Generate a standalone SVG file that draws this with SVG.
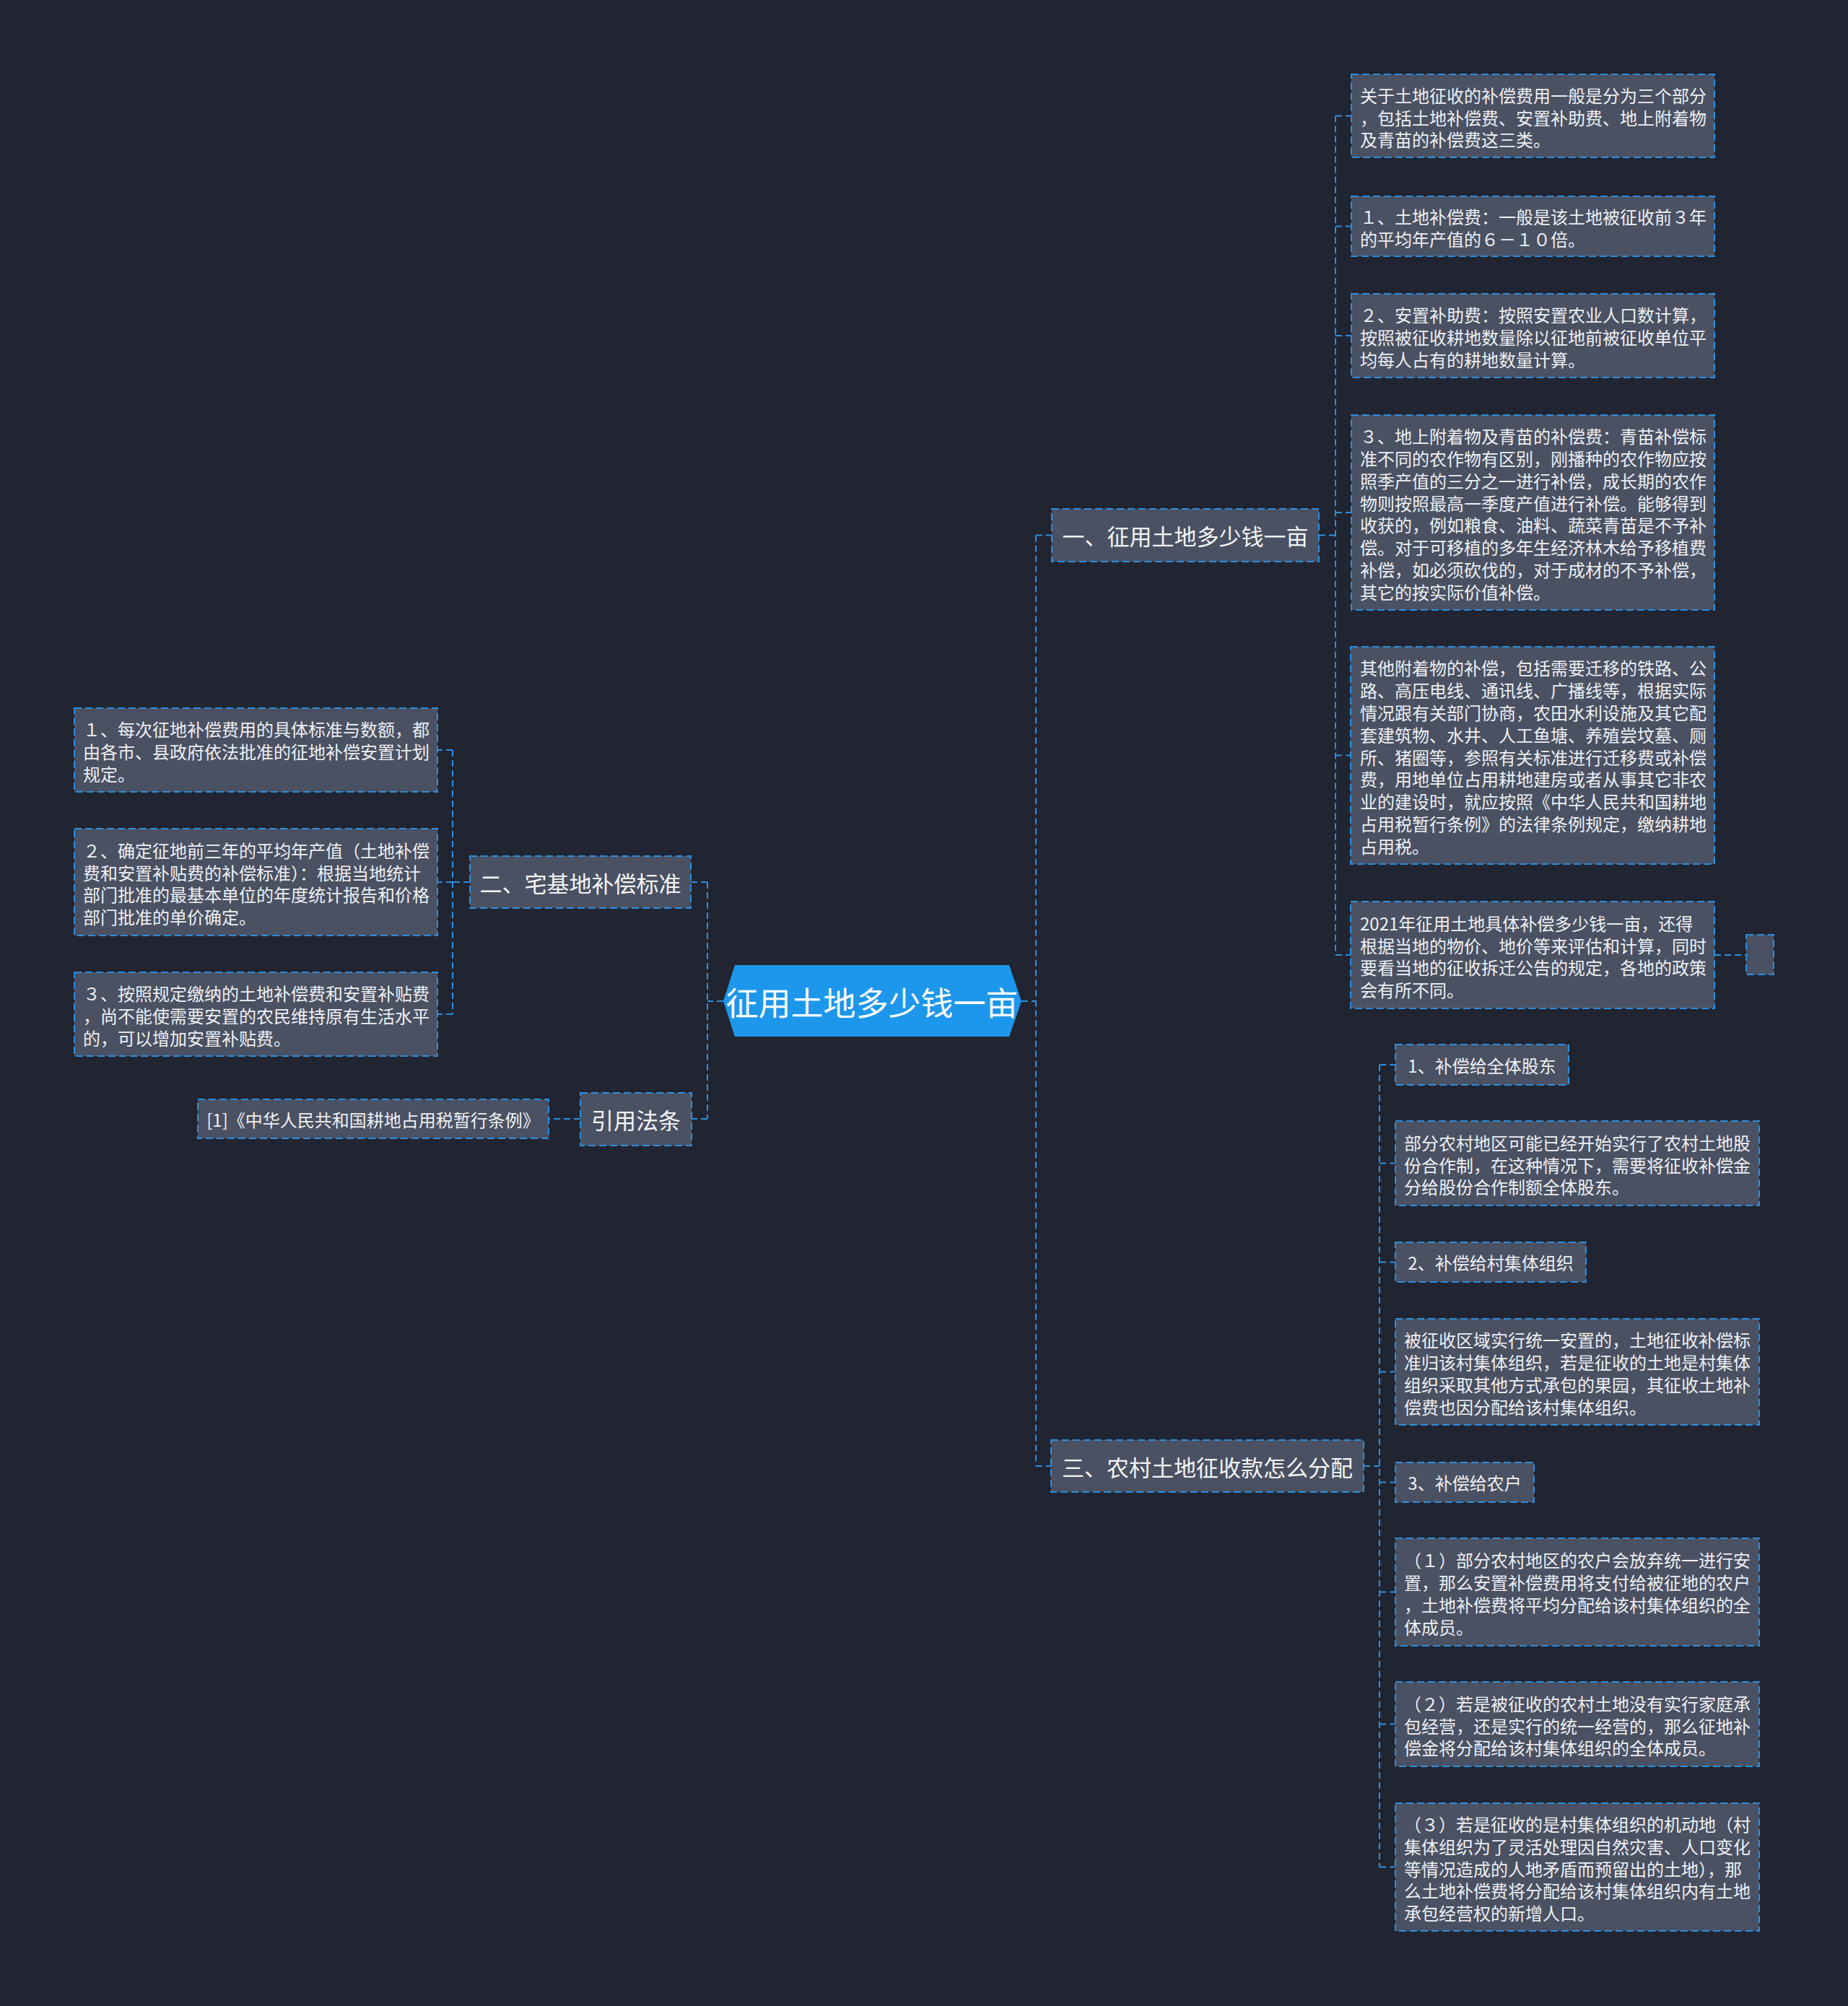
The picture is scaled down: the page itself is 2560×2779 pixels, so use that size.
<svg xmlns="http://www.w3.org/2000/svg" width="2560" height="2779" viewBox="0 0 2560 2779">
<style>
.bg{fill:#212531}
.box{fill:#4a5162;stroke:#2b8ee0;stroke-width:2;stroke-dasharray:10 5}
.conn{fill:none;stroke:#2b8ee0;stroke-width:2;stroke-dasharray:9 5}
.t{font-family:"Noto Sans CJK SC","Noto Sans",sans-serif;fill:#eef0f4;dominant-baseline:central}
.s{font-size:24px}
.b{font-size:31px;text-anchor:middle;fill:#f4f5f7}
.r{font-size:45px;text-anchor:middle;fill:#ffffff}
</style>
<rect class="bg" x="0" y="0" width="2560" height="2779"/>
<g id="connectors">
<path class="conn" d="M1415 1387 H1435 M1435 741.5 V2031 M1435 741.5 H1457 M1435 2031 H1456"/>
<path class="conn" d="M1827 741.5 H1850 M1850 160.5 V1323 M1850 160.5 H1872 M1850 313.5 H1872 M1850 465 H1872 M1850 710 H1872 M1850 1046.5 H1871 M1850 1323 H1871 M2375 1323 H2419"/>
<path class="conn" d="M1889 2031 H1911 M1911 1475 V2586.5 M1911 1475 H1933 M1911 1611.5 H1933 M1911 1748.5 H1933 M1911 1900.5 H1933 M1911 2053.5 H1933 M1911 2205.5 H1933 M1911 2388.5 H1933 M1911 2586.5 H1933"/>
<path class="conn" d="M1002 1387 H980 M980 1222 V1550 M980 1222 H957 M980 1550 H958"/>
<path class="conn" d="M651 1222 H627 M627 1039 V1405 M627 1039 H606 M627 1222 H606 M627 1405 H606 M804 1550 H760"/>
</g>
<g id="root">
<polygon points="1002,1387 1018,1337 1398,1337 1415,1387 1398,1436 1018,1436" fill="#1d97ec"/>
<text class="t r" x="1208" y="1387">征用土地多少钱一亩</text>
</g>
<g id="branch1">
<rect class="box" x="1457" y="705" width="370" height="73"/>
<text class="t b" x="1642" y="741.5">一、征用土地多少钱一亩</text>
</g>
<g id="c1">
<rect class="box" x="1872" y="103" width="503" height="115"/>
<text class="t s"><tspan x="1884" y="130.7">关于土地征收的补偿费用一般是分为三个部分</tspan><tspan x="1884" y="161.5">，包括土地补偿费、安置补助费、地上附着物</tspan><tspan x="1884" y="192.3">及青苗的补偿费这三类。</tspan></text>
</g>
<g id="c2">
<rect class="box" x="1872" y="272" width="503" height="83"/>
<text class="t s"><tspan x="1884" y="299.1">１、土地补偿费：一般是该土地被征收前３年</tspan><tspan x="1884" y="329.9">的平均年产值的６－１０倍。</tspan></text>
</g>
<g id="c3">
<rect class="box" x="1872" y="407" width="503" height="116"/>
<text class="t s"><tspan x="1884" y="435.2">２、安置补助费：按照安置农业人口数计算，</tspan><tspan x="1884" y="466">按照被征收耕地数量除以征地前被征收单位平</tspan><tspan x="1884" y="496.8">均每人占有的耕地数量计算。</tspan></text>
</g>
<g id="c4">
<rect class="box" x="1872" y="575" width="503" height="270"/>
<text class="t s"><tspan x="1884" y="603.2">３、地上附着物及青苗的补偿费：青苗补偿标</tspan><tspan x="1884" y="634">准不同的农作物有区别，刚播种的农作物应按</tspan><tspan x="1884" y="664.8">照季产值的三分之一进行补偿，成长期的农作</tspan><tspan x="1884" y="695.6">物则按照最高一季度产值进行补偿。能够得到</tspan><tspan x="1884" y="726.4">收获的，例如粮食、油料、蔬菜青苗是不予补</tspan><tspan x="1884" y="757.2">偿。对于可移植的多年生经济林木给予移植费</tspan><tspan x="1884" y="788">补偿，如必须砍伐的，对于成材的不予补偿，</tspan><tspan x="1884" y="818.8">其它的按实际价值补偿。</tspan></text>
</g>
<g id="c5">
<rect class="box" x="1871" y="896" width="504" height="301"/>
<text class="t s"><tspan x="1884" y="924.3">其他附着物的补偿，包括需要迁移的铁路、公</tspan><tspan x="1884" y="955.1">路、高压电线、通讯线、广播线等，根据实际</tspan><tspan x="1884" y="985.9">情况跟有关部门协商，农田水利设施及其它配</tspan><tspan x="1884" y="1016.7">套建筑物、水井、人工鱼塘、养殖尝坟墓、厕</tspan><tspan x="1884" y="1047.5">所、猪圈等，参照有关标准进行迁移费或补偿</tspan><tspan x="1884" y="1078.3">费，用地单位占用耕地建房或者从事其它非农</tspan><tspan x="1884" y="1109.1">业的建设时，就应按照《中华人民共和国耕地</tspan><tspan x="1884" y="1139.9">占用税暂行条例》的法律条例规定，缴纳耕地</tspan><tspan x="1884" y="1170.7">占用税。</tspan></text>
</g>
<g id="c6">
<rect class="box" x="1871" y="1249" width="504" height="148"/>
<text class="t s"><tspan x="1884" y="1277.8">2021年征用土地具体补偿多少钱一亩，还得</tspan><tspan x="1884" y="1308.6">根据当地的物价、地价等来评估和计算，同时</tspan><tspan x="1884" y="1339.4">要看当地的征收拆迁公告的规定，各地的政策</tspan><tspan x="1884" y="1370.2">会有所不同。</tspan></text>
</g>
<g id="c6-empty">
<rect class="box" x="2419" y="1295" width="38" height="55"/>
</g>
<g id="branch3">
<rect class="box" x="1456" y="1995" width="433" height="72"/>
<text class="t b" x="1672.5" y="2031">三、农村土地征收款怎么分配</text>
</g>
<g id="d1">
<rect class="box" x="1933" y="1447" width="240" height="56"/>
<text class="t s" x="2053" y="1475" text-anchor="middle">1、补偿给全体股东</text>
</g>
<g id="d2">
<rect class="box" x="1933" y="1553" width="504" height="117"/>
<text class="t s"><tspan x="1945" y="1581.7">部分农村地区可能已经开始实行了农村土地股</tspan><tspan x="1945" y="1612.5">份合作制，在这种情况下，需要将征收补偿金</tspan><tspan x="1945" y="1643.3">分给股份合作制额全体股东。</tspan></text>
</g>
<g id="d3">
<rect class="box" x="1933" y="1721" width="264" height="55"/>
<text class="t s" x="2065" y="1748.5" text-anchor="middle">2、补偿给村集体组织</text>
</g>
<g id="d4">
<rect class="box" x="1933" y="1827" width="504" height="147"/>
<text class="t s"><tspan x="1945" y="1855.3">被征收区域实行统一安置的，土地征收补偿标</tspan><tspan x="1945" y="1886.1">准归该村集体组织，若是征收的土地是村集体</tspan><tspan x="1945" y="1916.9">组织采取其他方式承包的果园，其征收土地补</tspan><tspan x="1945" y="1947.7">偿费也因分配给该村集体组织。</tspan></text>
</g>
<g id="d5">
<rect class="box" x="1933" y="2026" width="192" height="55"/>
<text class="t s" x="2029" y="2053.5" text-anchor="middle">3、补偿给农户</text>
</g>
<g id="d6">
<rect class="box" x="1933" y="2131" width="504" height="149"/>
<text class="t s"><tspan x="1945" y="2160.3">（１）部分农村地区的农户会放弃统一进行安</tspan><tspan x="1945" y="2191.1">置，那么安置补偿费用将支付给被征地的农户</tspan><tspan x="1945" y="2221.9">，土地补偿费将平均分配给该村集体组织的全</tspan><tspan x="1945" y="2252.7">体成员。</tspan></text>
</g>
<g id="d7">
<rect class="box" x="1933" y="2330" width="504" height="117"/>
<text class="t s"><tspan x="1945" y="2358.7">（２）若是被征收的农村土地没有实行家庭承</tspan><tspan x="1945" y="2389.5">包经营，还是实行的统一经营的，那么征地补</tspan><tspan x="1945" y="2420.3">偿金将分配给该村集体组织的全体成员。</tspan></text>
</g>
<g id="d8">
<rect class="box" x="1933" y="2498" width="504" height="177"/>
<text class="t s"><tspan x="1945" y="2525.9">（３）若是征收的是村集体组织的机动地（村</tspan><tspan x="1945" y="2556.7">集体组织为了灵活处理因自然灾害、人口变化</tspan><tspan x="1945" y="2587.5">等情况造成的人地矛盾而预留出的土地），那</tspan><tspan x="1945" y="2618.3">么土地补偿费将分配给该村集体组织内有土地</tspan><tspan x="1945" y="2649.1">承包经营权的新增人口。</tspan></text>
</g>
<g id="branch2">
<rect class="box" x="651" y="1186" width="306" height="72"/>
<text class="t b" x="804" y="1222">二、宅基地补偿标准</text>
</g>
<g id="e1">
<rect class="box" x="103" y="981" width="503" height="116"/>
<text class="t s"><tspan x="115" y="1009.2">１、每次征地补偿费用的具体标准与数额，都</tspan><tspan x="115" y="1040">由各市、县政府依法批准的征地补偿安置计划</tspan><tspan x="115" y="1070.8">规定。</tspan></text>
</g>
<g id="e2">
<rect class="box" x="103" y="1148" width="503" height="148"/>
<text class="t s"><tspan x="115" y="1176.8">２、确定征地前三年的平均年产值（土地补偿</tspan><tspan x="115" y="1207.6">费和安置补贴费的补偿标准）：根据当地统计</tspan><tspan x="115" y="1238.4">部门批准的最基本单位的年度统计报告和价格</tspan><tspan x="115" y="1269.2">部门批准的单价确定。</tspan></text>
</g>
<g id="e3">
<rect class="box" x="103" y="1347" width="503" height="116"/>
<text class="t s"><tspan x="115" y="1375.2">３、按照规定缴纳的土地补偿费和安置补贴费</tspan><tspan x="115" y="1406">，尚不能使需要安置的农民维持原有生活水平</tspan><tspan x="115" y="1436.8">的，可以增加安置补贴费。</tspan></text>
</g>
<g id="branch4">
<rect class="box" x="804" y="1514" width="154" height="73"/>
<text class="t b" x="881" y="1550">引用法条</text>
</g>
<g id="ref1">
<rect class="box" x="274" y="1523" width="486" height="54"/>
<text class="t s" x="517" y="1550" text-anchor="middle">[1]《中华人民共和国耕地占用税暂行条例》</text>
</g>
</svg>
